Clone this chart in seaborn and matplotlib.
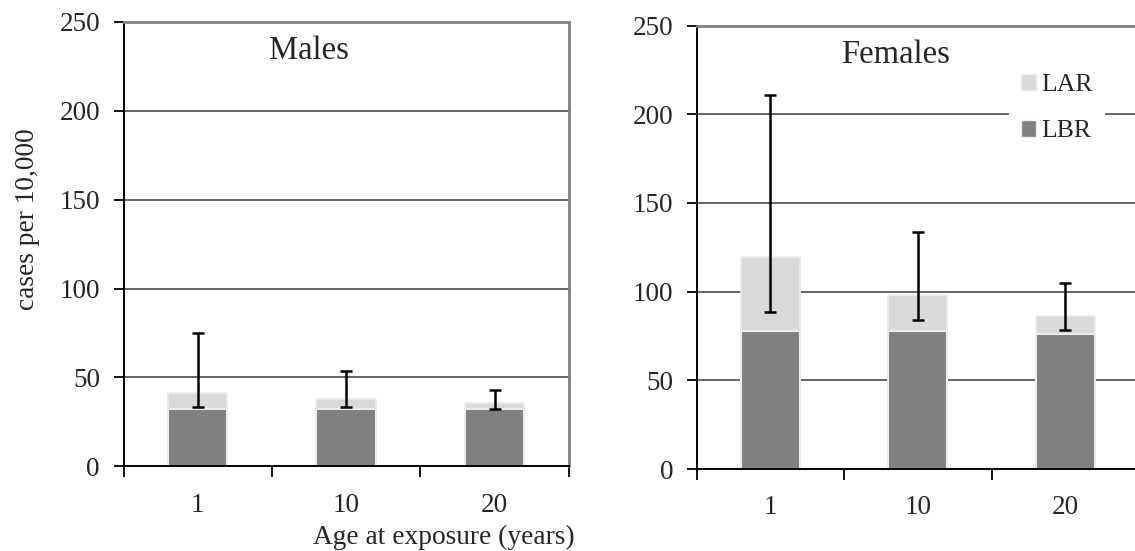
import pandas as pd
import matplotlib
matplotlib.use("Agg")
import matplotlib.pyplot as plt
from matplotlib.patches import Patch
import seaborn as sns

# values (cases per 10,000)
ages = ["1", "10", "20"]
males_lbr = [32, 32, 32]
males_lar = [9.5, 5.7, 3.6]
males_lo = [33.4, 33.4, 32.2]
males_hi = [74.9, 53.4, 42.9]
females_lbr = [77.7, 77.7, 76.3]
females_lar = [41.6, 20.4, 9.7]
females_lo = [88.7, 83.8, 78.6]
females_hi = [211, 133.7, 105]

sns.set_style("white")
plt.rcParams["font.family"] = ["Liberation Serif", "DejaVu Serif"]

light = "#d9d9d9"
dark = "#808080"

fig = plt.figure(figsize=(11.35, 5.51), dpi=100)
ax1 = fig.add_axes([0.1089, 0.1537, 0.3922, 0.8067])
ax2 = fig.add_axes([0.6139, 0.1488, 0.3896, 0.8047])


def panel(ax, lbr, lar, lo, hi, title, tx):
    df = pd.DataFrame({"age": ages, "LBR": lbr, "LAR": lar})
    df["total"] = df["LBR"] + df["LAR"]
    sns.barplot(data=df, x="age", y="total", color=light, width=0.4,
                edgecolor="#ececec", linewidth=1.2, saturation=1, ax=ax)
    sns.barplot(data=df, x="age", y="LBR", color=dark, width=0.4,
                edgecolor="#ececec", linewidth=1.5, saturation=1, ax=ax)
    tot = df["total"].values
    yerr = [tot - pd.Series(lo).values, pd.Series(hi).values - tot]
    ax.errorbar(range(len(ages)), tot, yerr=yerr, fmt="none", ecolor="black",
                elinewidth=1.8, capsize=4.5, capthick=1.8, zorder=5)

    ax.set_ylim(0, 250)
    ax.set_xlim(-0.5, 2.5)
    ax.set_yticks([0, 50, 100, 150, 200, 250])
    ax.set_yticklabels(["0", "50", "100", "150", "200", "250"])
    ax.set_axisbelow(True)
    ax.yaxis.grid(True, color="#3a3a3a", linewidth=1.1)
    ax.xaxis.grid(False)

    # boundary ticks, labels at the category centres
    ax.set_xticks([-0.5, 0.5, 1.5, 2.5])
    ax.set_xticklabels([])
    ax.set_xticks([0, 1, 2], minor=True)
    ax.set_xticklabels(ages, minor=True)
    ax.tick_params(axis="x", which="major", direction="out", length=8,
                   width=1.3, color="black", bottom=True)
    ax.tick_params(axis="x", which="minor", length=0, pad=19, labelsize=19.5)
    ax.tick_params(axis="y", direction="out", length=7, width=1.3,
                   color="black", pad=10, labelsize=19.5, left=True)

    ax.set_xlabel("")
    ax.set_ylabel("")
    for s in ["left", "bottom"]:
        ax.spines[s].set_color("black")
        ax.spines[s].set_linewidth(1.4)
    for s in ["top", "right"]:
        ax.spines[s].set_color("#808080")
        ax.spines[s].set_linewidth(2)

    ax.text(tx, 0.935, title, transform=ax.transAxes, ha="center",
            va="center", fontsize=23.5)


panel(ax1, males_lbr, males_lar, males_lo, males_hi, "Males", 0.4165)
panel(ax2, females_lbr, females_lar, females_lo, females_hi, "Females", 0.4505)

handles = [Patch(facecolor=light, edgecolor="#ececec", label="LAR"),
           Patch(facecolor=dark, edgecolor="#ececec", label="LBR")]
leg = ax2.legend(handles=handles, loc="center",
                 bbox_to_anchor=(1057 / 1135, 1 - 108 / 551),
                 bbox_transform=fig.transFigure, frameon=True,
                 fontsize=18.5, handlelength=0.6, handleheight=0.6,
                 handletextpad=0.2, labelspacing=0.95, borderpad=0.45)
leg.get_frame().set_facecolor("white")
leg.get_frame().set_edgecolor("none")
leg.get_frame().set_alpha(1)

fig.text(0.0238, 0.6025, "cases per 10,000", rotation=90, ha="center",
         va="center", fontsize=19.7)
fig.text(444 / 1135, 0.024, "Age at exposure (years)", ha="center",
         va="center", fontsize=19.7)

fig.savefig("out.png", dpi=100, facecolor="white")
